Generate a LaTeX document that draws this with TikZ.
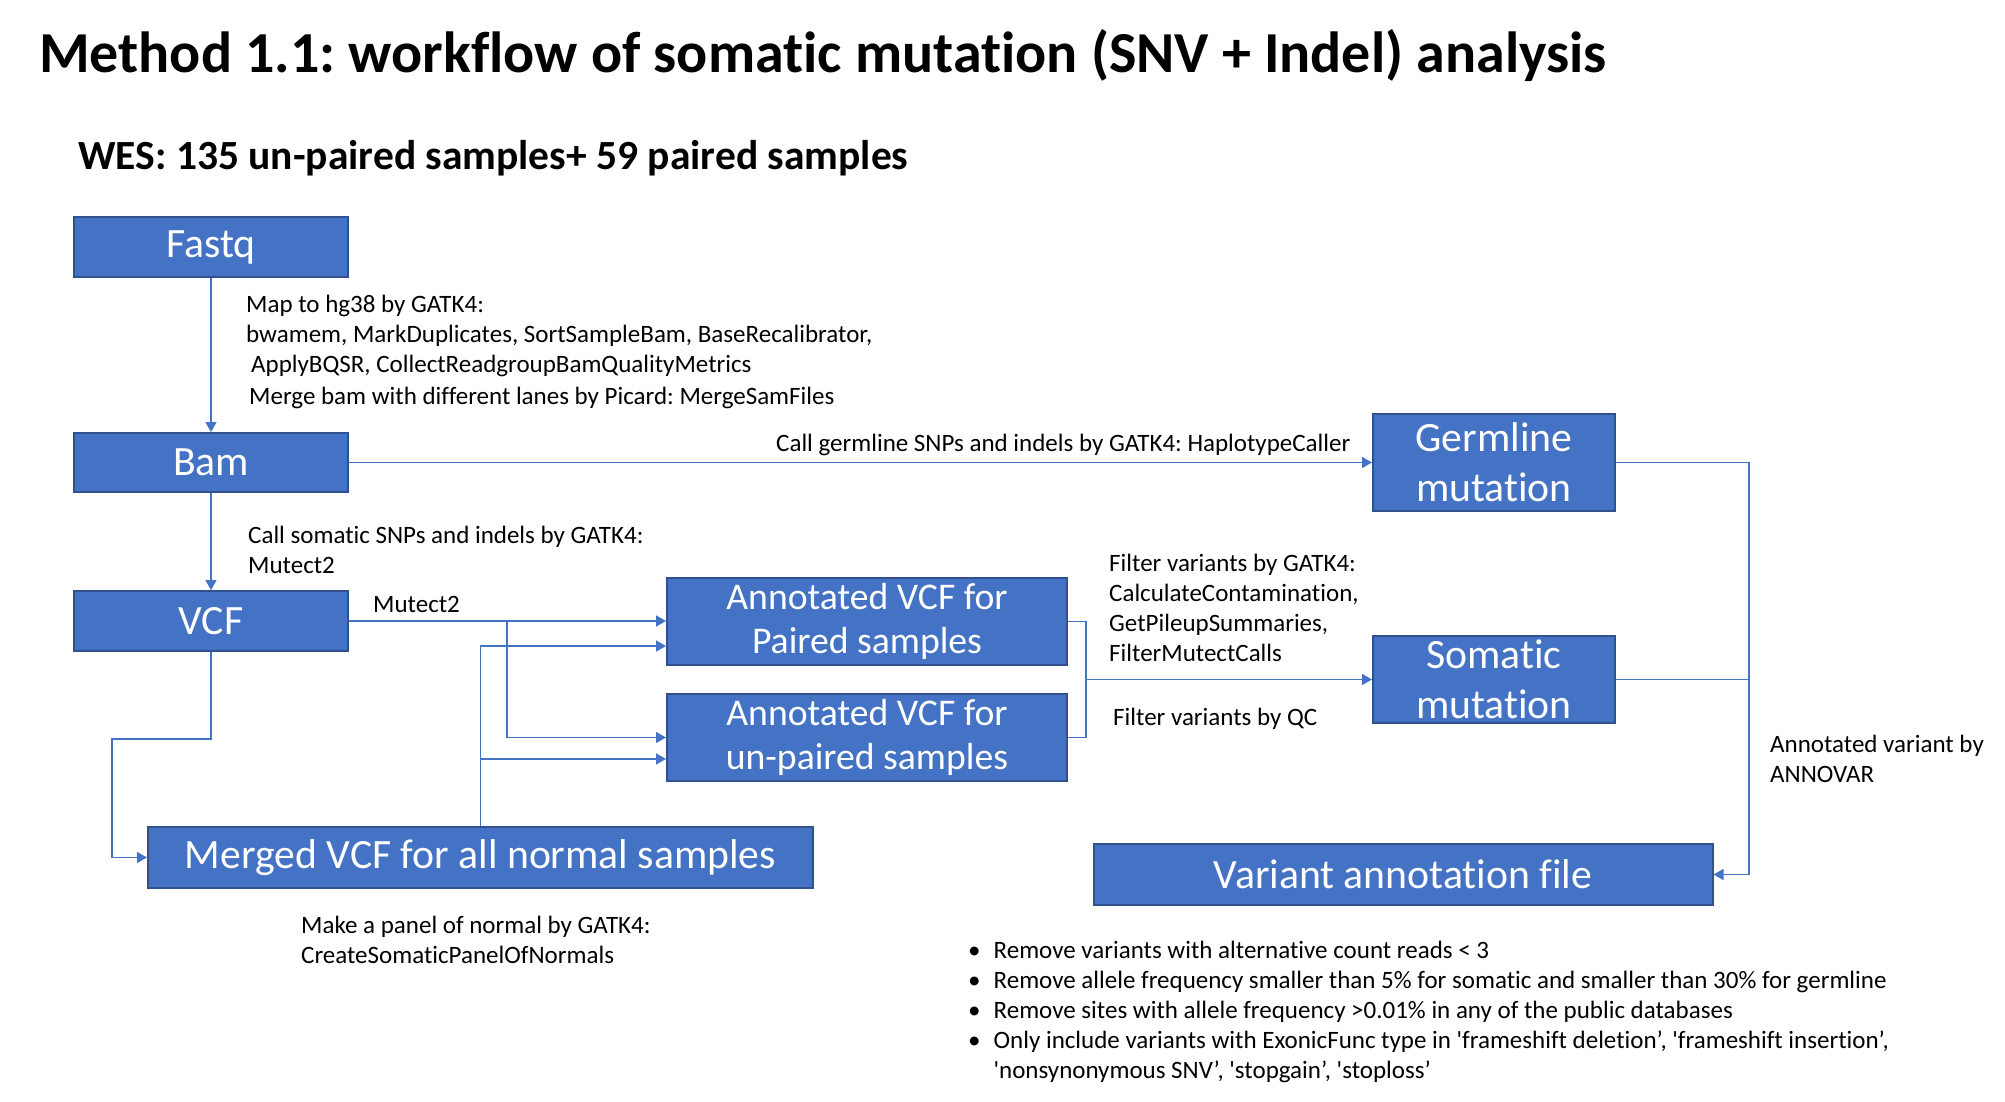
\documentclass[tikz,border=0pt]{standalone}
\usepackage{fontspec}
\setmainfont{Carlito}[Ligatures=NoCommon]
\frenchspacing
\usetikzlibrary{arrows.meta,calc}
\definecolor{boxblue}{HTML}{4472C4}
\definecolor{boxedge}{HTML}{2F528F}
\tikzset{
	stepbox/.style={draw=boxedge, line width=2pt, fill=boxblue, text=white, align=center, inner sep=0pt, font=\fontsize{41.7}{50}\selectfont},
	flow/.style={draw=boxblue, line width=1.4pt, -{Triangle[length=10pt,width=11pt]}},
	link/.style={draw=boxblue, line width=1.4pt},
	note/.style={anchor=base west, inner sep=0pt, align=left, font=\fontsize{25}{30}\selectfont},
}

\begin{document}
\begin{tikzpicture}[x=1pt, y=-1pt]
			%%%%% START %%%%%
			\fill[white] (0, 0) rectangle (2005, 1102);
			\useasboundingbox (0, 0) rectangle (2005, 1102);
			
			\node[anchor=base west, inner sep=0pt, font=\fontsize{58}{70}\bfseries] (title) at (39, 73) {Method 1.1: workflow of somatic mutation (SNV + Indel) analysis};
			\node[anchor=base west, inner sep=0pt, font=\fontsize{41.5}{50}\bfseries] (wes) at (78, 170) {WES: 135 un-paired samples+ 59 paired samples};
			
			% boxes
			\node[stepbox, minimum width=274, minimum height=60] (fastq) at (211, 247) {Fastq};
			\node[stepbox, minimum width=274, minimum height=59] (bam) at (211, 462.5) {Bam};
			\node[stepbox, minimum width=274, minimum height=60] (vcf) at (211, 621) {VCF};
			\node[stepbox, minimum width=400, minimum height=87, font=\fontsize{37.7}{44}\selectfont] (paired) at (867, 621.5) {Annotated VCF for\\Paired samples};
			\node[stepbox, minimum width=400, minimum height=87, font=\fontsize{37.7}{44}\selectfont] (unpaired) at (867, 737.5) {Annotated VCF for\\un-paired samples};
			\node[stepbox, minimum width=242, minimum height=97] (germ) at (1494, 462.5) {Germline\\mutation};
			\node[stepbox, minimum width=242, minimum height=87] (soma) at (1494, 679.5) {Somatic\\mutation};
			\node[stepbox, minimum width=665, minimum height=61] (merged) at (480.5, 857.5) {Merged VCF for all normal samples};
			\node[stepbox, minimum width=619, minimum height=61] (annot) at (1403, 874.5) {Variant annotation file};
			
			% helper points
			\coordinate (split) at (507, 621);
			\coordinate (pin) at (481, 646);
			\coordinate (uin) at (481, 759);
			\coordinate (join) at (1086, 679.5);
			\coordinate (rail) at (1749, 874.5);
			\coordinate (bend) at (112, 739);
			
			% connectors
			\draw[flow] (fastq) -- (bam);
			\draw[flow] (bam) -- (vcf);
			\draw[flow] (bam) -- (germ);
			\draw[flow] (vcf.east) -- (vcf.east -| paired.west);
			\draw[flow] (vcf.east -| split) |- (unpaired.west);
			\draw[flow] (merged.north) |- (pin -| paired.west);
			\draw[flow] (uin) -- (uin -| unpaired.west);
			\draw[link] (paired.east) -| (join);
			\draw[link] (unpaired.east) -| (join);
			\draw[flow] (join) -- (soma.west);
			\draw[link] (germ.east) -| (rail);
			\draw[link] (soma.east) -- (soma.east -| rail);
			\draw[flow] (rail) -- (annot.east);
			\draw[flow] (vcf.south) |- (bend) |- (merged.west);
			
			% labels
			\node[note] (map1) at (246, 312) {Map to hg38 by GATK4:};
			\node[note] (map2) at (246, 342) {bwamem, MarkDuplicates, SortSampleBam, BaseRecalibrator,};
			\node[note] (map3) at (251, 372) {ApplyBQSR, CollectReadgroupBamQualityMetrics};
			\node[note] (map4) at (249, 404) {Merge bam with different lanes by Picard: MergeSamFiles};
			\node[note] (germcall) at (776, 451) {Call germline SNPs and indels by GATK4: HaplotypeCaller};
			\node[note] (somcall1) at (248, 543) {Call somatic SNPs and indels by GATK4:};
			\node[note] (somcall2) at (248, 573) {Mutect2};
			\node[note] (mutect) at (373, 612) {Mutect2};
			\node[note] (filt1) at (1109, 571) {Filter variants by GATK4:};
			\node[note] (filt2) at (1109, 601) {CalculateContamination,};
			\node[note] (filt3) at (1109, 631) {GetPileupSummaries,};
			\node[note] (filt4) at (1109, 661) {FilterMutectCalls};
			\node[note] (qc) at (1113, 725) {Filter variants by QC};
			\node[note] (anno1) at (1770, 752) {Annotated variant by};
			\node[note] (anno2) at (1770, 782) {ANNOVAR};
			\node[note] (pon1) at (301, 933) {Make a panel of normal by GATK4:};
			\node[note] (pon2) at (301, 963) {CreateSomaticPanelOfNormals};
			
			% filter rules
			\node[note, anchor=north west] (rules) at (968, 937) {%
				\begin{tabular}{@{}l@{\hspace{13pt}}l@{}}
					\textbullet & Remove variants with alternative count reads < 3\\
					\textbullet & Remove allele frequency smaller than 5\% for somatic and smaller than 30\% for germline\\
					\textbullet & Remove sites with allele frequency >0.01\% in any of the public databases\\
					\textbullet & Only include variants with ExonicFunc type in \textquotesingle frameshift deletion’, \textquotesingle frameshift insertion’,\\
					& \textquotesingle nonsynonymous SNV’, \textquotesingle stopgain’, \textquotesingle stoploss’
				\end{tabular}};
			%%%%% END %%%%%
\end{tikzpicture}
\end{document}
